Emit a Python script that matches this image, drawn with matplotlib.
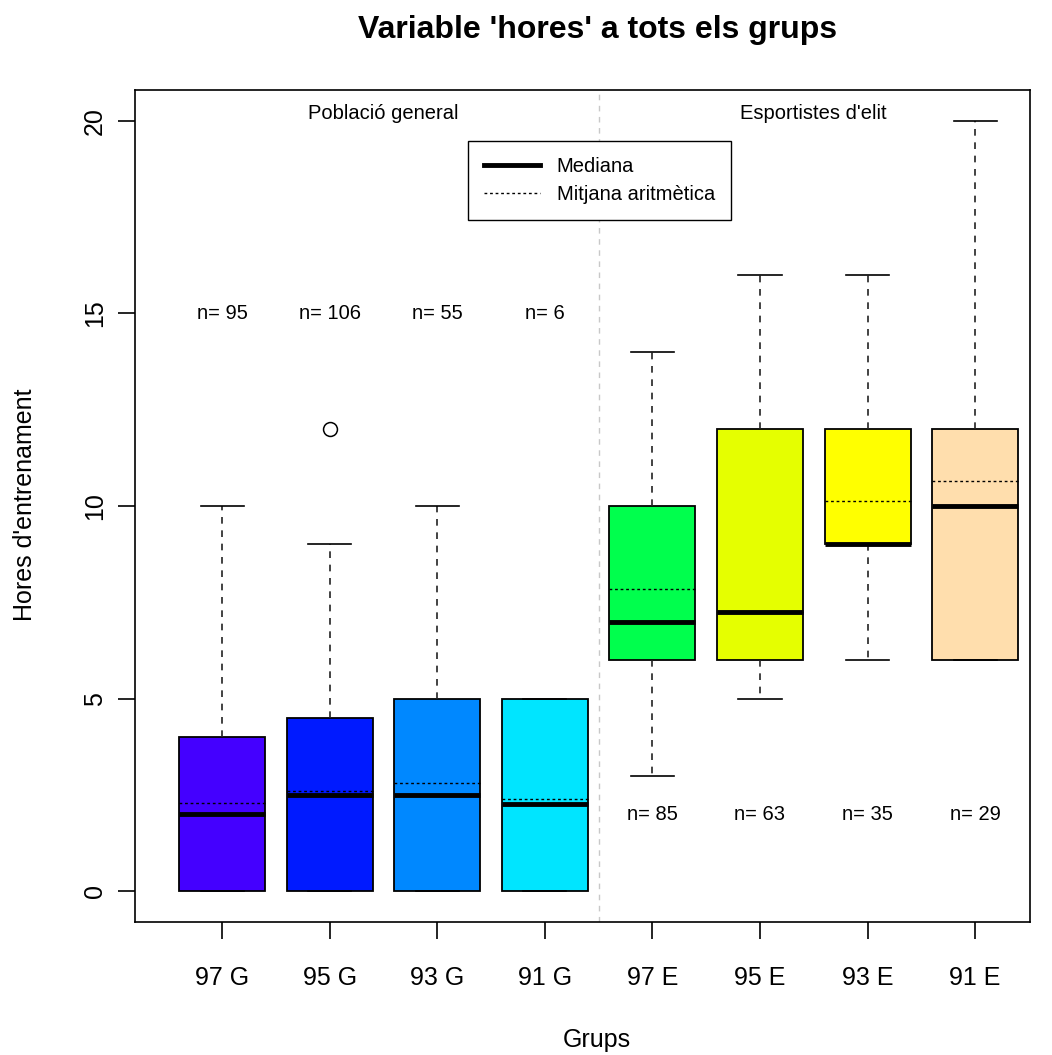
import matplotlib
matplotlib.use("Agg")
import matplotlib.pyplot as plt
from matplotlib.lines import Line2D

plt.rcParams['font.family'] = ['Liberation Sans', 'DejaVu Sans']

# groups and box statistics
groups = ["97 G", "95 G", "93 G", "91 G", "97 E", "95 E", "93 E", "91 E"]
counts = [95, 106, 55, 6, 85, 63, 35, 29]
whisk_lo = [0, 0, 0, 0, 3, 5, 6, 6]
q1 = [0, 0, 0, 0, 6, 6, 9, 6]
medians = [2, 2.5, 2.5, 2.25, 7, 7.25, 9, 10]
q3 = [4, 4.5, 5, 5, 10, 12, 12, 12]
whisk_hi = [10, 9, 10, 5, 14, 16, 16, 20]
means = [2.3, 2.6, 2.8, 2.4, 7.85, 7.25, 10.13, 10.65]
outliers = [[], [12], [], [], [], [], [], []]
colors = ["#4400ff", "#001aff", "#0088ff", "#00e5ff",
          "#00ff4d", "#e5ff00", "#ffff00", "#ffdead"]

fig = plt.figure(figsize=(10.52, 10.55), dpi=100)
ax = fig.add_axes([0.1283, 0.1261, 0.8508, 0.7886])

stats = []
for i in range(len(groups)):
    stats.append(dict(whislo=whisk_lo[i], q1=q1[i], med=medians[i], q3=q3[i],
                      whishi=whisk_hi[i], fliers=outliers[i], label=groups[i]))

pos = list(range(1, len(groups) + 1))
bp = ax.bxp(stats, positions=pos, widths=0.8, patch_artist=True, showfliers=True,
            boxprops=dict(edgecolor="black", linewidth=1.3),
            medianprops=dict(color="black", linewidth=3.5, solid_capstyle="butt"),
            whiskerprops=dict(color="#222222", linewidth=1.2, linestyle=(0, (4, 4))),
            capprops=dict(color="black", linewidth=1.2),
            capwidths=0.4,
            flierprops=dict(marker="o", markerfacecolor="none", markeredgecolor="black",
                            markersize=10, markeredgewidth=1.1))
for patch, c in zip(bp["boxes"], colors):
    patch.set_facecolor(c)

# mean lines
for p, m in zip(pos, means):
    ax.plot([p - 0.4, p + 0.4], [m, m], color="black", linewidth=1.0, linestyle=(0, (2, 2)))

# separator between the two populations
ax.axvline(4.5, color="#c8c8c8", linewidth=1, linestyle=(0, (4, 4)), zorder=0)

# n labels
for i in range(len(groups)):
    y = 15 if i < 4 else 2
    ax.text(pos[i], y, "n= %d" % counts[i], ha="center", va="center", fontsize=14.5)

ax.text(2.5, 20.2, "Població general", ha="center", va="center", fontsize=14.5)
ax.text(6.5, 20.2, "Esportistes d'elit", ha="center", va="center", fontsize=14.5)

ax.set_xlim(0.19, 8.51)
ax.set_ylim(-0.8, 20.8)
ax.set_xticks(pos)
ax.set_xticklabels(groups, fontsize=18)
ax.set_yticks([0, 5, 10, 15, 20])
ax.set_yticklabels(["0", "5", "10", "15", "20"], fontsize=18, rotation=90, va="center")
ax.tick_params(axis="both", direction="out", length=12, width=1.2)
ax.tick_params(axis="x", pad=20)
ax.tick_params(axis="y", pad=8)
for s in ax.spines.values():
    s.set_linewidth(1.2)

fig.text(597 / 1052, 1 - 1040 / 1055, "Grups", fontsize=18, ha="center", va="center")
fig.text(25 / 1052, 1 - 505 / 1055, "Hores d'entrenament", fontsize=18,
         ha="center", va="center", rotation=90)

fig.text(598 / 1052, 1 - 30 / 1055, "Variable 'hores' a tots els grups", fontsize=23,
         fontweight="bold", ha="center", va="center")

handles = [Line2D([], [], color="black", linewidth=3.5),
           Line2D([], [], color="black", linewidth=1.0, linestyle=(0, (2, 2)))]
ax.legend(handles, ["Mediana", "Mitjana aritmètica"], loc="upper left",
          bbox_to_anchor=(0.372, 0.9387), borderaxespad=0, fontsize=14.5,
          frameon=True, fancybox=False, edgecolor="black", framealpha=1,
          borderpad=0.8, handlelength=2.8, labelspacing=0.45)

fig.savefig("out.png", dpi=100)
